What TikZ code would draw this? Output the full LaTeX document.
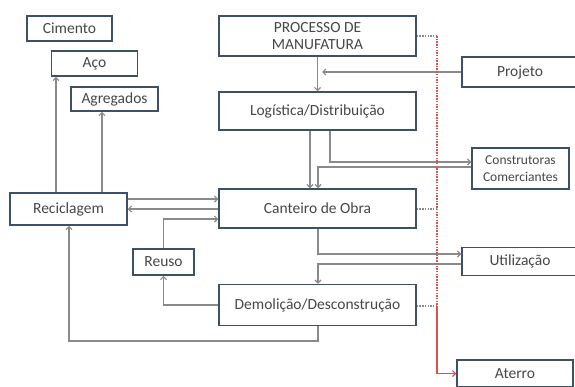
\documentclass[tikz,border=0pt]{standalone}
\usepackage{fontspec}
\setmainfont{Carlito}
\usetikzlibrary{arrows.meta}
\definecolor{boxline}{HTML}{3E5068}
\definecolor{txt}{HTML}{474747}
\definecolor{conn}{HTML}{8A8A8A}
\definecolor{redl}{HTML}{D9534F}
\tikzset{
  box/.style={draw=boxline, line width=1.5pt, fill=white, text=txt, inner sep=0pt, align=center, font=\fontsize{15.5}{17}\selectfont},
  smallbox/.style={box, font=\fontsize{13.5}{16.5}\selectfont},
  conn/.style={draw=conn, line width=1.1pt, -{Straight Barb[length=3pt,width=6pt]}},
  stub/.style={draw=conn, line width=1.1pt, dash pattern=on 1.5pt off 1.2pt},
  reddot/.style={draw=redl, line width=1.1pt, dash pattern=on 1.5pt off 1.2pt},
  redarr/.style={draw=redl, line width=1.1pt, -{Straight Barb[length=3pt,width=6pt]}}
}
\begin{document}
\begin{tikzpicture}[x=1pt,y=-1pt]
\useasboundingbox (0,0) rectangle (575,386);
% nodes
\node[box, minimum width=85pt, minimum height=25pt] (cim) at (69.5,28.5) {Cimento};
\node[box, minimum width=86pt, minimum height=25pt] (aco) at (94.5,63.5) {Aço};
\node[box, minimum width=87pt, minimum height=24pt] (agr) at (114.5,99) {Agregados};
\node[box, minimum width=197pt, minimum height=40pt] (proc) at (317.5,36) {PROCESSO DE\\MANUFATURA};
\node[box, minimum width=116pt, minimum height=30pt] (proj) at (520,72) {Projeto};
\node[box, minimum width=197pt, minimum height=38pt] (log) at (317.5,111) {Logística/Distribuição};
\node[smallbox, minimum width=97pt, minimum height=41pt] (cons) at (520.5,168.5) {Construtoras\\Comerciantes};
\node[box, minimum width=197pt, minimum height=39pt] (cant) at (317.5,208.5) {Canteiro de Obra};
\node[box, minimum width=117pt, minimum height=32pt] (rec) at (68.5,209) {Reciclagem};
\node[box, minimum width=61pt, minimum height=26pt] (reu) at (163.5,262) {Reuso};
\node[box, minimum width=116pt, minimum height=28pt] (util) at (520,261.5) {Utilização};
\node[box, minimum width=197pt, minimum height=41pt] (dem) at (317.5,305) {Demolição/Desconstrução};
\node[box, minimum width=116pt, minimum height=27pt] (ater) at (515,373.5) {Aterro};
% helper coordinates
\coordinate (rv) at (437,36);
\coordinate (rk) at (437,306);
\coordinate (rb) at (437,373.5);
% connectors
\draw[conn] (proc.south) -- (log.north);
\draw[conn] (proj.west |- 0,72) -- (322,72);
\draw[conn] (log.south -| 310,0) -- (cant.north -| 310,0);
\draw[conn] (log.south -| 330,0) -- (330,162) -- (cons.west |- 0,162);
\draw[conn] (cons.west |- 0,167) -- (318,167) -- (cant.north -| 318,0);
\draw[conn] (rec.east |- 0,199) -- (cant.west |- 0,199);
\draw[conn] (cant.west |- 0,209) -- (rec.east |- 0,209);
\draw[conn] (reu.north) -- (163.5,219) -- (cant.west |- 0,219);
\draw[conn] (dem.west) -- (163.5,305) -- (reu.south);
\draw[conn] (dem.south -| 318,0) -- (318,341) -- (69,341) -- (rec.south -| 69,0);
\draw[conn] (rec.north -| 56,0) -- (aco.south -| 56,0);
\draw[conn] (rec.north -| 102,0) -- (agr.south -| 102,0);
\draw[conn] (cant.south -| 318,0) -- (318,254) -- (util.west |- 0,254);
\draw[conn] (util.west |- 0,264) -- (318,264) -- (dem.north -| 318,0);
% dotted stubs and red line
\draw[stub] (proc.east |- 0,36) -- (rv);
\draw[stub] (cant.east |- 0,209) -- (437,209);
\draw[stub] (dem.east |- 0,306) -- (rk);
\draw[reddot] (rv) -- (rk);
\draw[redarr] (rk) -- (rb) -- (ater.west);
\end{tikzpicture}
\end{document}
